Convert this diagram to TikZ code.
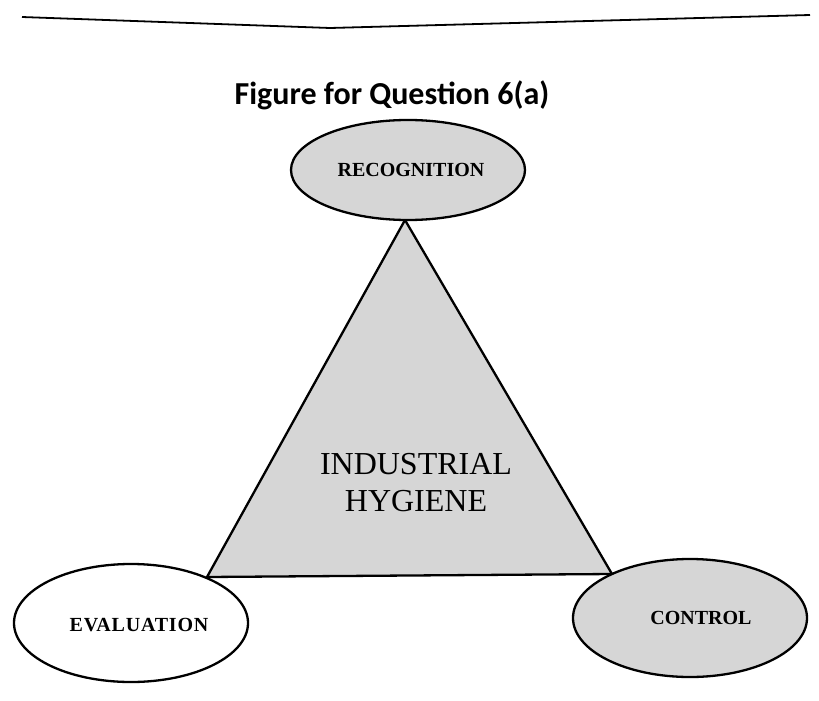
\documentclass[tikz,border=0pt]{standalone}
\usepackage{fontspec}
\setmainfont{Liberation Serif}
\newfontfamily\titlefont{Carlito}
\newfontfamily\spacedserif[LetterSpace=4]{Liberation Serif}
\usetikzlibrary{shapes.geometric}
\tikzset{
  speckle/.style={fill=black!16},
  outline/.style={draw=black, line width=2.3pt},
  phase/.style={ellipse, outline, minimum width=234pt, minimum height=118pt, inner sep=0pt},
  phaselabel/.style={inner sep=0pt, font=\fontsize{20}{24}\selectfont\bfseries},
}
\begin{document}
\begin{tikzpicture}[x=1pt,y=-1pt]
\useasboundingbox[fill=white] (0,0) rectangle (819,701);
% top rule
\coordinate (l1) at (22,17);
\coordinate (l2) at (330,28);
\coordinate (l3) at (810,15);
\draw[line width=1.8pt] (l1) -- (l2) -- (l3);
% title
\node[anchor=base, font=\titlefont\bfseries\fontsize{32}{38}\selectfont] (title) at (392,104) {Figure for Question 6(a)};
% triangle
\coordinate (apex) at (405,220);
\coordinate (bl) at (207,577);
\coordinate (br) at (612,574);
\draw[outline, speckle, line join=miter] (apex) -- (bl) -- (br) -- cycle;
\node[align=center, font=\fontsize{32}{37}\selectfont] (ih) at (416,483) {INDUSTRIAL\\HYGIENE};
% ellipses
\node[phase, speckle, minimum height=100pt] (rec) at (408,170) {};
\node[phase, fill=white] (eval) at (131,623) {};
\node[phase, speckle] (ctrl) at (690,618) {};
% labels
\node[phaselabel] (reclab) at ([xshift=3pt]rec.center) {RECOGNITION};
\node[phaselabel, font=\spacedserif\fontsize{20}{24}\selectfont\bfseries] (evallab) at ([xshift=8pt,yshift=-2pt]eval.center) {EVALUATION};
\node[phaselabel] (ctrllab) at ([xshift=11pt]ctrl.center) {CONTROL};
\end{tikzpicture}
\end{document}
